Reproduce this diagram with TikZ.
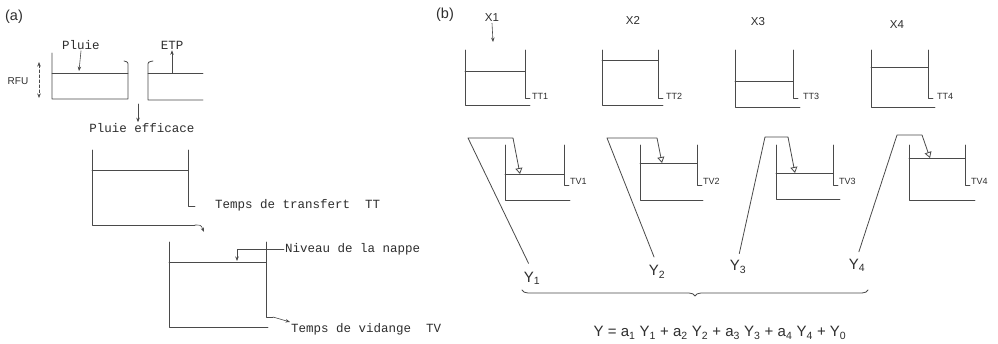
\documentclass[tikz,border=0pt]{standalone}
\usepackage{fontspec}
\setmainfont{Liberation Sans}
\newfontfamily\typefont{Liberation Mono}
\usetikzlibrary{arrows.meta,calc,positioning,decorations.pathreplacing}
\definecolor{nappeInk}{HTML}{2E2E2E}
\definecolor{nappeLine}{HTML}{4A4A4A}
\definecolor{nappePaper}{HTML}{FFFFFF}

\begin{document}
\begin{tikzpicture}[x=1pt,y=-1pt,>=Latex,line cap=round,line join=round]
\useasboundingbox[fill=nappePaper] (0,0) rectangle (998,343);
\tikzset{wall/.style={draw=nappeLine,line width=0.8pt},level/.style={draw=nappeLine,line width=0.6pt},tlabel/.style={text=nappeInk,font=\typefont\fontsize{12.5}{14}\selectfont,inner sep=1pt},hlabel/.style={text=nappeInk,font=\fontsize{11.5}{13}\selectfont,inner sep=1pt},tank/.style={text=nappeInk,anchor=west,font=\fontsize{9}{11}\selectfont,inner sep=1pt},ylabel/.style={text=nappeInk,font=\fontsize{15}{17}\selectfont,inner sep=1pt},drop/.style={draw=nappeLine,line width=0.6pt,-{Stealth[length=4.5pt,width=3.5pt]}},gauge/.style={draw=nappeLine,line width=0.8pt,-{Triangle[open,length=6pt,width=7pt]}}}
% ---- (a) lumped model
\node[hlabel,font=\fontsize{14.5}{16}\selectfont] (pa) at (14,17) {(a)};
\node[hlabel,font=\fontsize{10}{12}\selectfont] (rfu) at (18,81) {RFU};
\node[tlabel] (pluie) at (81,45) {Pluie};
\node[tlabel] (etp) at (172,45) {ETP};
\node[tlabel] (efficace) at (142,128) {Pluie efficace};
\node[tlabel,anchor=west] (transfert) at (214,205) {Temps de transfert\ \ TT};
\node[tlabel,anchor=west] (nappe) at (284,249) {Niveau de la nappe};
\node[tlabel,anchor=west] (vidange) at (290,329) {Temps de vidange\ \ TV};
\coordinate (rfu-top) at (39,62); \coordinate (rfu-bot) at (39,98);
\coordinate (pluie-in) at (79,71); \coordinate (etp-out) at (172,73);
\coordinate (gap) at (138,104); \coordinate (nappe-lvl) at (237,261);
% soil store
\draw[wall] (52,53) -- (52,99) -- (128,99) -- (128,66) .. controls (128,62) .. (124,61);
\draw[level] (52,73) -- (128,73);
\draw[wall] (153,61) .. controls (148,62) .. (148,66) -- (148,100) -- (203,100);
\draw[level] (148,73) -- (203,73);
\draw[drop,densely dashed,{Stealth[length=4.5pt,width=3.5pt]}-{Stealth[length=4.5pt,width=3.5pt]}] (rfu-top) -- (rfu-bot);
\draw[drop] (pluie.south) -- (pluie-in);
\draw[drop] (etp-out) -- (etp.south);
\draw[drop] (gap) -- (efficace.north -| gap);
% transfer store
\draw[wall] (92,150) -- (92,225) -- (195,225);
\draw[wall] (188,150) -- (188,206) -- (195,206);
\draw[level] (92,170) -- (188,170);
\draw[drop] (195,225) .. controls (201,225) .. (204,232);
% groundwater store
\draw[wall] (169,242) -- (169,327) -- (268,327);
\draw[wall] (266,242) -- (266,317) -- (273,317);
\draw[level] (169,262) -- (266,262);
\draw[drop] (nappe.west) -| (nappe-lvl);
\draw[drop] (273,317) -- (vidange.north west);
% ---- (b) four sub-basins
\node[hlabel,font=\fontsize{14.5}{16}\selectfont] (pb) at (445,15) {(b)};
\node[hlabel] (x1) at (492,18) {X1};
\node[hlabel] (x2) at (633,20) {X2};
\node[hlabel] (x3) at (758,22) {X3};
\node[hlabel] (x4) at (897,25) {X4};
\coordinate (x1-in) at (493,42);
\draw[drop] (x1.south) -- (x1-in);
% transfer tanks
\draw[wall] (465,50) -- (465,105) -- (530,105); \draw[wall] (525,50) -- (525,98) -- (530,98); \draw[level] (465,71) -- (525,71);
\draw[wall] (602,50) -- (602,105) -- (663,105); \draw[wall] (658,50) -- (658,98) -- (663,98); \draw[level] (602,60) -- (658,60);
\draw[wall] (735,50) -- (735,107) -- (800,107); \draw[wall] (793,50) -- (793,98) -- (798,98); \draw[level] (735,81) -- (793,81);
\draw[wall] (871,50) -- (871,107) -- (935,107); \draw[wall] (928,50) -- (928,98) -- (933,98); \draw[level] (871,67) -- (928,67);
\node[tank] (tt1) at (531,96) {TT1};
\node[tank] (tt2) at (665,96) {TT2};
\node[tank] (tt3) at (802,96) {TT3};
\node[tank] (tt4) at (936,96) {TT4};
% drainage tanks
\draw[wall] (505,145) -- (505,200) -- (570,200); \draw[wall] (564,145) -- (564,185) -- (569,185); \draw[level] (505,174) -- (564,174);
\draw[wall] (640,145) -- (640,200) -- (703,200); \draw[wall] (697,145) -- (697,185) -- (702,185); \draw[level] (640,163) -- (697,163);
\draw[wall] (776,145) -- (776,199) -- (840,199); \draw[wall] (833,145) -- (833,185) -- (838,185); \draw[level] (776,173) -- (833,173);
\draw[wall] (909,145) -- (909,200) -- (975,200); \draw[wall] (965,145) -- (965,185) -- (970,185); \draw[level] (909,158) -- (965,158);
\node[tank] (tv1) at (569,181) {TV1};
\node[tank] (tv2) at (702,181) {TV2};
\node[tank] (tv3) at (838,181) {TV3};
\node[tank] (tv4) at (970,181) {TV4};
% outputs
\node[ylabel] (y1) at (532,278) {Y\textsubscript{1}};
\node[ylabel] (y2) at (657,272) {Y\textsubscript{2}};
\node[ylabel] (y3) at (738,267) {Y\textsubscript{3}};
\node[ylabel] (y4) at (857,265) {Y\textsubscript{4}};
\coordinate (v1in) at (520,174); \coordinate (v2in) at (662,163);
\coordinate (v3in) at (795,173); \coordinate (v4in) at (930,158);
\draw[gauge,shorten <=8pt] (y1.north) -- (468,138) -- (513,138) -- (v1in);
\draw[gauge,shorten <=8pt] (y2.north) -- (607,138) -- (657,138) -- (v2in);
\draw[gauge,shorten <=6pt] (y3.north) -- (765,137) -- (788,137) -- (v3in);
\draw[gauge,shorten <=6pt] (y4.north) -- (897,135) -- (922,135) -- (v4in);
\draw[wall,decorate,decoration={brace,mirror,amplitude=6pt}] (522,290) -- (868,290);
\node[ylabel] (sum) at (720,333) {Y =\ a\textsubscript{1} Y\textsubscript{1} + a\textsubscript{2} Y\textsubscript{2} + a\textsubscript{3} Y\textsubscript{3} + a\textsubscript{4} Y\textsubscript{4} + Y\textsubscript{0}};
\end{tikzpicture}
\end{document}
